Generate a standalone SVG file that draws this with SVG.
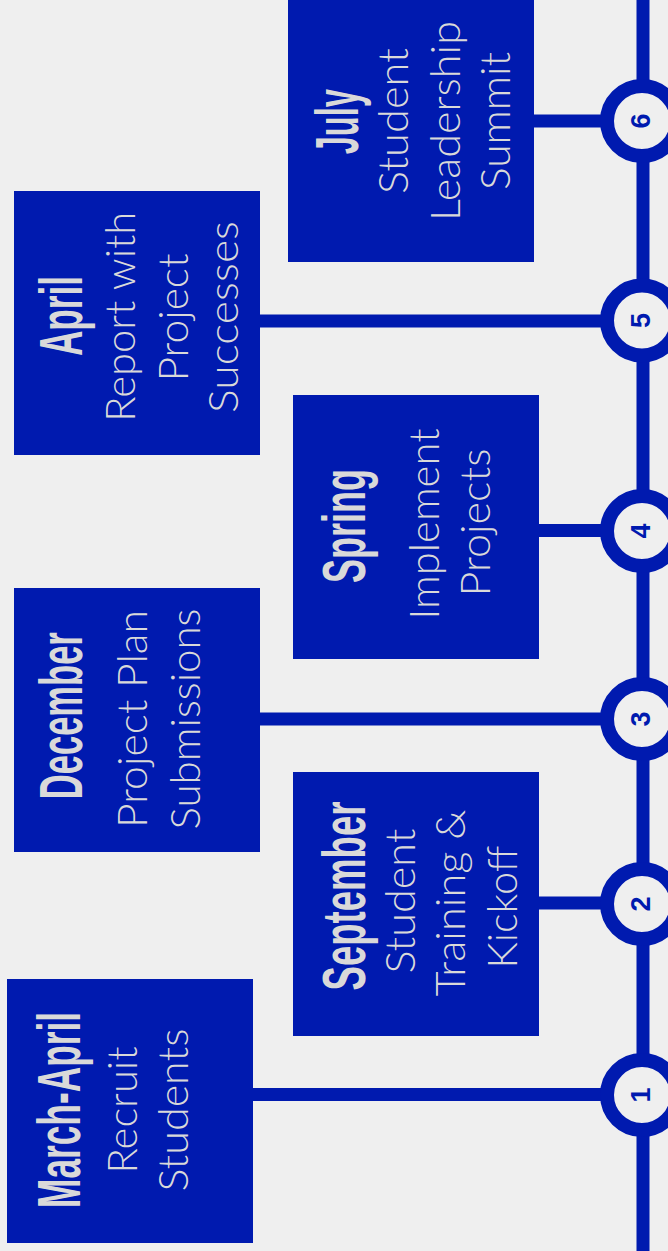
<svg xmlns="http://www.w3.org/2000/svg" width="668" height="1251" viewBox="0 0 668 1251">
<style>
.bg{fill:#efefef}
.box{fill:#001aaf}
.ln{stroke:#001aaf;stroke-width:13;fill:none}
.ring{fill:#efefef;stroke:#001aaf;stroke-width:14}
.t{font-family:"Liberation Sans",Arial,sans-serif;font-weight:700;font-size:62px;fill:#d9d9d9;text-anchor:middle}
.b{font-family:Lato,"Open Sans","Liberation Sans",sans-serif;font-weight:300;font-size:41px;fill:#d9d9d9;text-anchor:middle}
.n{font-family:"Liberation Sans",Arial,sans-serif;font-weight:700;font-size:27px;fill:#001aaf;text-anchor:middle}
</style>
<rect class="bg" x="0" y="0" width="668" height="1251"/>
<g id="connectors">
<line class="ln" x1="643" y1="0" x2="643" y2="1251" stroke-width="14"/>
<line class="ln" x1="252" y1="1094.5" x2="610" y2="1094.5"/>
<line class="ln" x1="538" y1="903" x2="610" y2="903"/>
<line class="ln" x1="259" y1="719" x2="610" y2="719"/>
<line class="ln" x1="538" y1="530.5" x2="610" y2="530.5"/>
<line class="ln" x1="259" y1="321" x2="610" y2="321"/>
<line class="ln" x1="533" y1="121" x2="610" y2="121"/>
</g>
<g id="m1"><circle class="ring" cx="642" cy="1095" r="35"/><text class="n" transform="translate(650,1095) rotate(-90)">1</text></g>
<g id="m2"><circle class="ring" cx="642" cy="904" r="35"/><text class="n" transform="translate(650,904) rotate(-90)">2</text></g>
<g id="m3"><circle class="ring" cx="642" cy="719" r="35"/><text class="n" transform="translate(650,719) rotate(-90)">3</text></g>
<g id="m4"><circle class="ring" cx="642" cy="531" r="35"/><text class="n" transform="translate(650,531) rotate(-90)">4</text></g>
<g id="m5"><circle class="ring" cx="642" cy="320.5" r="35"/><text class="n" transform="translate(650,320.5) rotate(-90)">5</text></g>
<g id="m6"><circle class="ring" cx="642" cy="121" r="35"/><text class="n" transform="translate(650,121) rotate(-90)">6</text></g>
<g id="n1">
<rect class="box" x="7" y="979" width="246" height="264"/>
<text class="t" transform="translate(80,1110) rotate(-90)" textLength="196" lengthAdjust="spacingAndGlyphs">March-April</text>
<text class="b" transform="translate(136.7,1110) rotate(-90)" textLength="127" lengthAdjust="spacingAndGlyphs">Recruit</text>
<text class="b" transform="translate(188.3,1110) rotate(-90)" textLength="163" lengthAdjust="spacingAndGlyphs">Students</text>
</g>
<g id="n2">
<rect class="box" x="293" y="772" width="246" height="264"/>
<text class="t" transform="translate(365,896) rotate(-90)" textLength="189" lengthAdjust="spacingAndGlyphs">September</text>
<text class="b" transform="translate(415,901) rotate(-90)" textLength="145" lengthAdjust="spacingAndGlyphs">Student</text>
<text class="b" transform="translate(465,903) rotate(-90)" textLength="187" lengthAdjust="spacingAndGlyphs">Training &amp;</text>
<text class="b" transform="translate(517.3,907) rotate(-90)" textLength="123" lengthAdjust="spacingAndGlyphs">Kickoff</text>
</g>
<g id="n3">
<rect class="box" x="14" y="588" width="246" height="264"/>
<text class="t" transform="translate(81.7,715.7) rotate(-90)" textLength="167" lengthAdjust="spacingAndGlyphs">December</text>
<text class="b" transform="translate(146.7,719) rotate(-90)" textLength="218" lengthAdjust="spacingAndGlyphs">Project Plan</text>
<text class="b" transform="translate(200,719) rotate(-90)" textLength="221" lengthAdjust="spacingAndGlyphs">Submissions</text>
</g>
<g id="n4">
<rect class="box" x="293" y="395" width="246" height="264"/>
<text class="t" transform="translate(365,526) rotate(-90)" textLength="114" lengthAdjust="spacingAndGlyphs">Spring</text>
<text class="b" transform="translate(439.3,524) rotate(-90)" textLength="191" lengthAdjust="spacingAndGlyphs">Implement</text>
<text class="b" transform="translate(490,522.5) rotate(-90)" textLength="148" lengthAdjust="spacingAndGlyphs">Projects</text>
</g>
<g id="n5">
<rect class="box" x="14" y="191" width="246" height="264"/>
<text class="t" transform="translate(81.7,316) rotate(-90)" textLength="80" lengthAdjust="spacingAndGlyphs">April</text>
<text class="b" transform="translate(135,316.7) rotate(-90)" textLength="210" lengthAdjust="spacingAndGlyphs">Report with</text>
<text class="b" transform="translate(188.3,317.5) rotate(-90)" textLength="128" lengthAdjust="spacingAndGlyphs">Project</text>
<text class="b" transform="translate(238.3,317) rotate(-90)" textLength="192" lengthAdjust="spacingAndGlyphs">Successes</text>
</g>
<g id="n6">
<rect class="box" x="288" y="-2" width="246" height="264"/>
<text class="t" transform="translate(357.5,121.7) rotate(-90)" textLength="65" lengthAdjust="spacingAndGlyphs">July</text>
<text class="b" transform="translate(408.3,121) rotate(-90)" textLength="146" lengthAdjust="spacingAndGlyphs">Student</text>
<text class="b" transform="translate(460,121) rotate(-90)" textLength="200" lengthAdjust="spacingAndGlyphs">Leadership</text>
<text class="b" transform="translate(510,121) rotate(-90)" textLength="138" lengthAdjust="spacingAndGlyphs">Summit</text>
</g>
</svg>
